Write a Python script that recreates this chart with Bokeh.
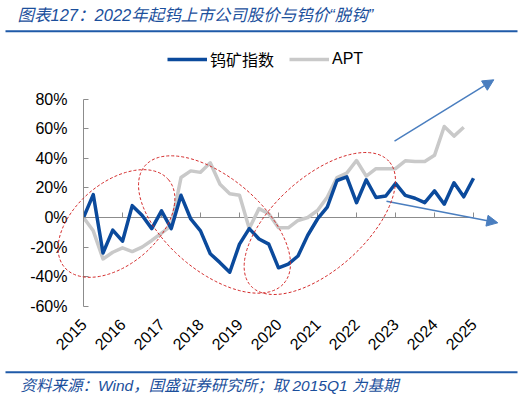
import math
import numpy as np
from bokeh.plotting import figure
from bokeh.models import (Range1d, LinearAxis, FixedTicker, PrintfTickFormatter, Legend,
                          LegendItem, Arrow, NormalHead)
from bokeh.core.properties import value
from bokeh.embed import file_html
from bokeh.resources import INLINE

# ---------------- data ----------------
quarters = [f"{y}Q{q}" for y in range(2015, 2026) for q in range(1, 5)][:41]
years = ["2015", "2016", "2017", "2018", "2019", "2020", "2021", "2022", "2023", "2024", "2025"]
tungsten_index = [0, 15.5, -24, -8.5, -16, 8, 1.5, -7.5, 4.5, -7.5,
                  15, -1, -9, -24.5, -30.5, -37, -18, -7.5, -14.5, -18,
                  -34, -31.5, -26, -12, -1, 7, 25, 27.5, 10, 25.5,
                  13.5, 14.5, 23, 15, 13, 10, 18, 9, 23.5, 14, 26.5]
apt_price = [0, -9, -28, -23.5, -20.5, -23, -20, -15.5, -10.5, -5.5,
             27, 31.5, 30.5, 37, 22.5, 16, 15, -7.5, 6, 2.5,
             -7, -7, -2, 0, 4.7, 13.7, 27, 30, 38.5, 28,
             33, 33, 33, 38.3, 37.8, 37.8, 42, 61.5, 55, 61]
y_ticks = [-60, -40, -20, 0, 20, 40, 60, 80]
series_names = ["钨矿指数", "APT"]
title_text = "图表127：2022年起钨上市公司股价与钨价“脱钩”"
source_text = "资料来源：Wind，国盛证券研究所；取 2015Q1 为基期"

x_idx = list(range(len(quarters)))
year_pos = [quarters.index(y + "Q1") for y in years]

# ---------------- layout ----------------
FIG_W, FIG_H = 526, 399
FRAME_L, FRAME_B = 83, 310          # frame left / bottom in canvas pixels
PX_Q, PX_PCT = 9.75, 1.48           # pixels per quarter / per percent
ORIGIN_X, ORIGIN_Y = 83.0, 217.0    # canvas pixel of (first quarter, 0%)

def dx(px):
    return (px - ORIGIN_X) / PX_Q

def dy(py):
    return (ORIGIN_Y - py) / PX_PCT

BLUE = "#0B4A9C"
GRAY = "#C9C9C9"
TXT_BLUE = "#1B4F9C"
RULE_BLUE = "#1F5AA8"
AXIS_GRAY = "#8C8C8C"
RED = "#D42A2A"
ARROW_BLUE = "#4A7EBF"
FONT = "Liberation Sans, Noto Sans CJK SC"

p = figure(width=FIG_W, height=FIG_H, output_backend="svg", toolbar_location=None,
           x_axis_location=None, y_axis_location=None,
           x_range=Range1d(dx(FRAME_L), dx(FIG_W)),
           y_range=Range1d(dy(FRAME_B), dy(0)),
           min_border_left=FRAME_L, min_border_right=0, min_border_top=0,
           min_border_bottom=FIG_H - FRAME_B)
p.grid.visible = False
p.outline_line_color = None
p.background_fill_color = "white"
p.border_fill_color = "white"

# y axis (left edge of frame = first quarter)
yax = LinearAxis(bounds=(-60, 80), ticker=FixedTicker(ticks=y_ticks),
                 formatter=PrintfTickFormatter(format="%d%%"),
                 major_tick_in=5, major_tick_out=0, minor_tick_line_color=None,
                 axis_line_color=AXIS_GRAY, major_tick_line_color=AXIS_GRAY,
                 major_label_standoff=16, major_label_text_font=FONT,
                 major_label_text_font_size="16px", major_label_text_color="#000000")
p.add_layout(yax, "left")

# x labels (bottom)
xlab = LinearAxis(ticker=FixedTicker(ticks=year_pos),
                  major_label_overrides={pos: y for pos, y in zip(year_pos, years)},
                  major_label_orientation=math.pi / 4,
                  axis_line_color=None, major_tick_line_color=None, minor_tick_line_color=None,
                  major_tick_in=0, major_tick_out=0,
                  major_label_standoff=11, major_label_text_font=FONT,
                  major_label_text_font_size="16px", major_label_text_color="#000000")
p.add_layout(xlab, "below")

# category axis line at 0% with inward ticks
tick_len = 5 / PX_PCT
p.segment(x0=[year_pos[0]], y0=[0], x1=[year_pos[-1]], y1=[0],
          line_color=AXIS_GRAY, line_width=1, level="underlay")
p.segment(x0=year_pos, y0=[0] * len(year_pos), x1=year_pos, y1=[tick_len] * len(year_pos),
          line_color=AXIS_GRAY, line_width=1, level="underlay")

r_apt = p.line(x_idx[:len(apt_price)], apt_price, line_color=GRAY, line_width=3.5, line_join="round")
r_idx = p.line(x_idx, tungsten_index, line_color=BLUE, line_width=3.5, line_join="round")

legend = Legend(items=[LegendItem(label=series_names[0], renderers=[r_idx]),
                       LegendItem(label=series_names[1], renderers=[r_apt])],
                orientation="horizontal", location=(84, 239),
                glyph_width=40, glyph_height=16, label_standoff=3, spacing=15,
                padding=0, margin=0, border_line_color=None, background_fill_alpha=0,
                label_text_font=FONT, label_text_font_size="16px", label_text_color="#000000")
p.add_layout(legend)

# dashed ellipses: centre px, semi axes px, tilt deg (positive = up-right)
def ellipse(cx, cy, a, b, deg):
    t = np.linspace(0, 2 * np.pi, 160)
    th = math.radians(deg)
    xs = cx + a * np.cos(t) * math.cos(th) - b * np.sin(t) * math.sin(th)
    ys = cy - (a * np.cos(t) * math.sin(th) + b * np.sin(t) * math.cos(th))
    return [dx(v) for v in xs], [dy(v) for v in ys]

for cx, cy, a, b, deg in [(116, 223, 68, 41, 40), (214, 224, 91, 47, -40), (319.3, 223, 93, 46, 42)]:
    ex, ey = ellipse(cx, cy, a, b, deg)
    p.line(ex, ey, line_color=RED, line_width=1, line_dash="3 2", level="overlay")

# trend arrows
for (x0, y0, x1, y1) in [(394, 140.7, 493.3, 79.3), (386, 200.7, 497.3, 222.3)]:
    p.add_layout(Arrow(end=NormalHead(size=11, fill_color=ARROW_BLUE, line_color=ARROW_BLUE),
                       x_start=dx(x0), y_start=dy(y0), x_end=dx(x1), y_end=dy(y1),
                       line_color=ARROW_BLUE, line_width=1.5))

# title, rules, source
p.text(x=[dx(17)], y=[dy(14)], text=[title_text], text_font=value(FONT), text_font_size="16.5px",
       text_font_style="italic", text_color=TXT_BLUE, text_baseline="middle", level="overlay")
p.segment(x0=[dx(5), dx(5)], y0=[dy(30.7), dy(371.7)], x1=[dx(517), dx(517)],
          y1=[dy(30.7), dy(371.7)], line_color=RULE_BLUE, line_width=2, level="overlay")
p.text(x=[dx(20)], y=[dy(385)], text=[source_text], text_font=value(FONT), text_font_size="15.5px",
       text_font_style="italic", text_color=TXT_BLUE, text_baseline="middle", level="overlay")

open("out.html", "w").write(file_html(p, INLINE))
